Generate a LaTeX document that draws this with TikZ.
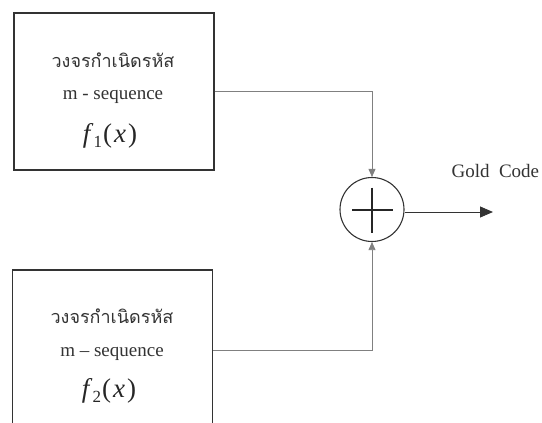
\documentclass[tikz,border=0pt]{standalone}
\usepackage{fontspec}
\setmainfont{Liberation Serif}
\newfontfamily\thaifont[Script=Thai]{Loma}
\usetikzlibrary{arrows.meta,calc}
\definecolor{boxline}{HTML}{333333}
\definecolor{connline}{HTML}{808080}
\newcommand{\fxlabel}[1]{\textit{f}\raisebox{-5pt}{\fontsize{17}{17}\selectfont #1}\hspace{1pt}(\hspace{2pt}\textit{x}\hspace{2pt})}
\tikzset{
  genbox/.style={draw=boxline,line width=1.3pt,minimum width=200pt,inner sep=0pt},
  thai/.style={font=\thaifont\fontsize{18}{22}\selectfont,text=black!80},
  seq/.style={font=\fontsize{19}{22}\selectfont,text=black!80},
  fx/.style={font=\fontsize{27}{30}\selectfont,text=black!85},
  conn/.style={draw=connline,line width=0.8pt},
  intip/.style={-{Triangle[length=8pt,width=7pt,fill=connline,color=connline]}},
}
\begin{document}
\begin{tikzpicture}[x=1pt,y=-1pt]
\useasboundingbox (0,0) rectangle (542,423);
\clip (0,0) rectangle (542,423);
% boxes
\node[genbox,minimum height=157pt] (b1) at (114,91.5) {};
\node[genbox,minimum height=160pt] (b2) at (112.5,350) {};
% texts in top box
\node[thai] (t1) at (113,60) {วงจรกำเนิดรหัส};
\node[seq] (s1) at (113,97) {m - sequence};
\node[fx] (f1) at (110,136) {\fxlabel{1}};
% texts in bottom box
\node[thai] (t2) at (112,316) {วงจรกำเนิดรหัส};
\node[seq] (s2) at (112,354) {m -- sequence};
\node[fx] (f2) at (109,391) {\fxlabel{2}};
% adder
\node[circle,draw=boxline,line width=1.1pt,minimum size=64pt,inner sep=0pt] (add) at (372,209.5) {};
\draw[line width=2pt,black!85] ($(add.center)+(-20,0)$) -- ($(add.center)+(21,0)$);
\draw[line width=2pt,black!85] ($(add.center)+(0,-22)$) -- ($(add.center)+(0,23)$);
% connectors
\draw[conn,intip] (b1.east) -- (b1.east -| add) -- (add.north);
\draw[conn,intip] (b2.east) -- (b2.east -| add) -- (add.south);
\coordinate (out) at (493,212);
\draw[line width=0.9pt,black!80,-{Triangle[length=13pt,width=11pt]}] (add.east |- out) -- (out);
\node[seq,anchor=west] (gold) at (448,171) {Gold\ \ Code};
\end{tikzpicture}
\end{document}
